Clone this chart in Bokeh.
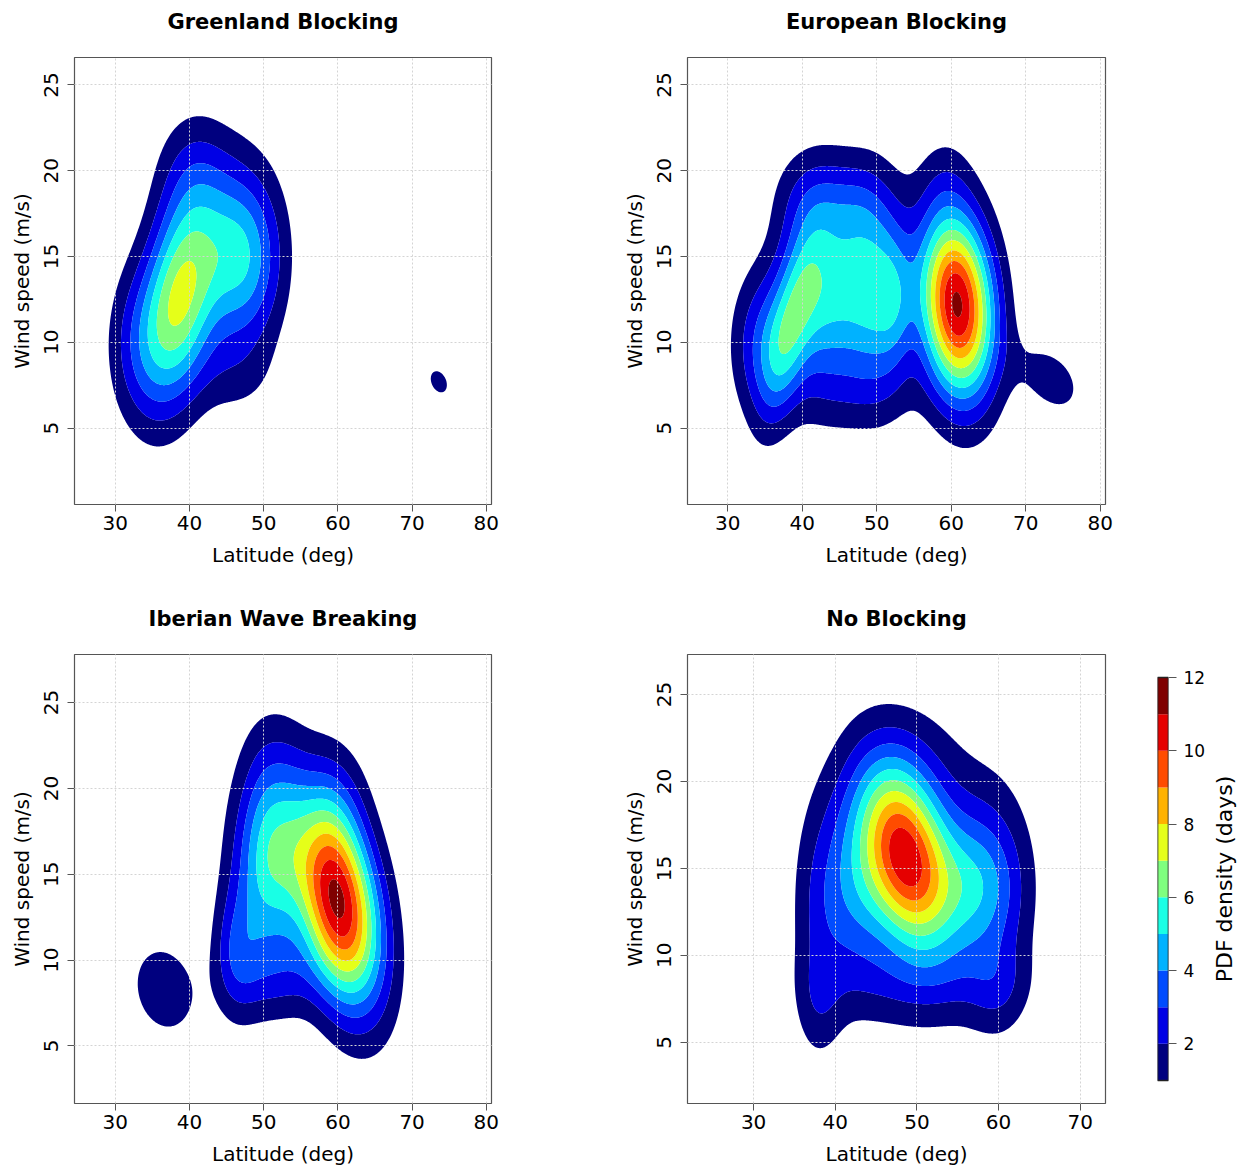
import numpy as np
from bokeh.plotting import figure
from bokeh.layouts import row, column
from bokeh.models import Range1d, FixedTicker, LinearAxis
from bokeh.embed import file_html
from bokeh.resources import INLINE

# ---------------- data ----------------
levels = [1, 2, 3, 4, 5, 6, 7, 8, 9, 10, 11, 12]
colors = ["#00007F", "#0000E5", "#004CFF", "#00B2FF", "#19FFE5", "#7FFF7F",
          "#E5FF19", "#FFB200", "#FF4C00", "#E50000", "#7F0000"]
cbar_ticks = [2, 4, 6, 8, 10, 12]
wind_ticks = [5, 10, 15, 20, 25]
lat_ticks_a = [30, 40, 50, 60, 70, 80]
lat_ticks_b = [30, 40, 50, 60, 70]

titles = ["Greenland Blocking", "European Blocking", "Iberian Wave Breaking", "No Blocking"]
cbar_title = "PDF density (days)"

# density components: centre (lat, wind), spread, tilt, height (days)
g_lat = [38.8, 47.0, 33.5, 46.0, 40.5, 73.6]
g_wind = [12.8, 15.0, 9.8, 8.0, 20.0, 7.7]
g_sd_lat = [3.5, 3.8, 3.2, 4.0, 3.5, 1.5]
g_sd_wind = [4.2, 3.6, 3.2, 1.8, 2.5, 0.85]
g_rho = [0.25, 0.0, 0.0, 0.0, 0.0, -0.3]
g_amp = [6.7, 5.0, 2.2, 0.8, 1.3, 1.3]

e_lat = [60.8, 38.3, 43.0, 50.0, 52.5, 34.8, 41.0, 47.5, 48.0, 59.0, 73.5]
e_wind = [12.2, 10.8, 13.0, 13.0, 12.3, 9.8, 18.5, 18.0, 7.0, 19.5, 7.8]
e_sd_lat = [3.5, 2.6, 4.0, 3.0, 1.8, 3.0, 3.5, 3.0, 6.0, 2.5, 3.5]
e_sd_wind = [3.8, 3.6, 4.0, 4.0, 2.8, 3.0, 2.0, 2.0, 1.6, 2.0, 1.7]
e_rho = [-0.15, 0.6, 0.0, 0.0, 0.0, 0.0, 0.0, 0.0, 0.0, 0.0, -0.35]
e_amp = [11.2, 3.1, 5.0, 4.1, 1.6, 2.8, 1.2, 1.2, 0.6, 0.6, 1.4]

i_lat = [59.9, 50.0, 53.0, 47.0, 46.2, 52.0, 51.0, 60.0, 36.6]
i_wind = [13.5, 16.0, 16.0, 15.0, 10.3, 9.0, 22.0, 19.5, 8.3]
i_sd_lat = [4.1, 2.2, 2.2, 2.5, 2.2, 4.0, 3.0, 3.0, 3.3]
i_sd_wind = [4.2, 4.2, 4.2, 4.5, 2.5, 1.8, 2.0, 2.5, 2.0]
i_rho = [-0.37, 0.0, 0.0, 0.0, 0.0, 0.0, 0.0, 0.0, -0.15]
i_amp = [11.3, 3.4, 2.5, 1.5, 2.0, 1.3, 0.2, 0.8, 1.8]

n_lat = [48.5, 49.5, 57.5, 60.0, 50.0, 42.0, 37.8, 49.0, 38.0, 60.0]
n_wind = [15.9, 14.5, 14.0, 13.0, 8.5, 14.0, 11.0, 21.5, 7.0, 8.0]
n_sd_lat = [3.8, 7.0, 3.5, 3.3, 8.0, 3.0, 2.2, 4.0, 2.0, 2.5]
n_sd_wind = [3.6, 5.0, 2.8, 5.0, 1.5, 3.8, 5.0, 2.2, 1.8, 1.8]
n_rho = [-0.35, 0.0, 0.0, 0.0, 0.0, 0.0, 0.0, 0.0, 0.0, 0.0]
n_amp = [7.8, 3.0, 2.5, 1.0, 0.8, 2.0, 1.2, 0.5, 0.7, 1.0]

# ---------------- field ----------------
xs = np.arange(20.0, 82.0001, 0.1)
ys = np.arange(0.0, 30.0001, 0.1)
X, Y = np.meshgrid(xs, ys)


def density(lat, wind, sdl, sdw, rho, amp):
    z = np.zeros_like(X)
    for x0, y0, sx, sy, r, a in zip(lat, wind, sdl, sdw, rho, amp):
        dx = (X - x0) / sx
        dy = (Y - y0) / sy
        q = (dx * dx + dy * dy - 2 * r * dx * dy) / (1 - r * r)
        z += a * np.exp(-0.5 * q)
    return z


FONT = "DejaVu Sans"
FRAME = "#555555"
NO_TICKS = [-9999]   # outside every range: the axis only shows its label


def label_only_axis(ax, text, size, style, standoff):
    ax.ticker = FixedTicker(ticks=NO_TICKS)
    ax.axis_line_color = None
    ax.major_tick_line_color = None
    ax.minor_tick_line_color = None
    ax.major_tick_out = 0
    ax.minor_tick_out = 0
    ax.major_label_standoff = 0
    ax.axis_label = text
    ax.axis_label_text_font = FONT
    ax.axis_label_text_font_size = size
    ax.axis_label_text_font_style = style
    ax.axis_label_text_color = "black"
    ax.axis_label_standoff = standoff


def panel(title, z, xr, yr, xticks, width, height, borders):
    p = figure(width=width, height=height, x_range=Range1d(*xr), y_range=Range1d(*yr),
               toolbar_location=None, output_backend="svg",
               min_border_left=borders[0], min_border_right=borders[1],
               min_border_top=borders[2], min_border_bottom=borders[3])
    p.background_fill_color = "white"
    p.border_fill_color = "white"
    p.outline_line_color = FRAME
    p.outline_line_width = 1.2
    p.contour(x=xs, y=ys, z=z, levels=levels, fill_color=colors)

    xa = p.below[0]
    ya = p.left[0]
    xa.ticker = FixedTicker(ticks=xticks)
    ya.ticker = FixedTicker(ticks=wind_ticks)
    p.xgrid.ticker = FixedTicker(ticks=xticks)
    p.ygrid.ticker = FixedTicker(ticks=wind_ticks)
    p.grid.grid_line_color = "#d4d4d4"
    p.grid.grid_line_dash = "2 2"
    p.grid.grid_line_width = 1
    p.grid.level = "overlay"

    xa.axis_label = "Latitude (deg)"
    ya.axis_label = "Wind speed (m/s)"
    for ax in [xa, ya]:
        ax.axis_line_color = None
        ax.major_tick_line_color = FRAME
        ax.major_tick_out = 7
        ax.major_tick_in = 0
        ax.minor_tick_line_color = None
        ax.major_label_text_font = FONT
        ax.major_label_text_font_size = "20px"
        ax.major_label_text_color = "black"
        ax.axis_label_text_font = FONT
        ax.axis_label_text_font_size = "20px"
        ax.axis_label_text_font_style = "normal"
        ax.axis_label_text_color = "black"
    xa.major_label_standoff = 4
    xa.axis_label_standoff = 10
    ya.major_label_orientation = "vertical"
    ya.major_label_standoff = 9
    ya.axis_label_standoff = 8

    # panel title (label of a tick-less axis above the frame)
    tax = LinearAxis()
    label_only_axis(tax, title, "21px", "bold", 24)
    p.add_layout(tax, "above")
    return p


z_g = density(g_lat, g_wind, g_sd_lat, g_sd_wind, g_rho, g_amp)
z_e = density(e_lat, e_wind, e_sd_lat, e_sd_wind, e_rho, e_amp)
z_i = density(i_lat, i_wind, i_sd_lat, i_sd_wind, i_rho, i_amp)
z_n = density(n_lat, n_wind, n_sd_lat, n_sd_wind, n_rho, n_amp)

p1 = panel(titles[0], z_g, (24.5, 80.7), (0.55, 26.6), lat_ticks_a, 613, 597, (74, 122, 57, 93))
p2 = panel(titles[1], z_e, (24.6, 80.7), (0.55, 26.6), lat_ticks_a, 633, 597, (74, 141, 57, 93))
p3 = panel(titles[2], z_i, (24.5, 80.7), (1.65, 27.8), lat_ticks_a, 613, 571, (74, 122, 57, 65))
p4 = panel(titles[3], z_n, (21.9, 73.1), (1.48, 27.3), lat_ticks_b, 532, 571, (74, 40, 57, 65))

# ---------------- colour key (frame aligned with the lower panels) ----------------
key_y = (0.37, 12.63)
pc = figure(width=63, height=571, x_range=Range1d(0, 1), y_range=Range1d(*key_y),
            toolbar_location=None, output_backend="svg",
            x_axis_location=None, y_axis_location="right",
            min_border_left=12, min_border_right=37, min_border_top=57, min_border_bottom=65)
pc.background_fill_color = "white"
pc.border_fill_color = "white"
pc.outline_line_color = None
pc.quad(left=0, right=1, bottom=levels[:-1], top=levels[1:], fill_color=colors, line_color=None)
pc.quad(left=0, right=1, bottom=levels[0], top=levels[-1], fill_color=None,
        line_color="#222222", line_width=1.6)
pc.grid.visible = False
cax = pc.right[0]
cax.ticker = FixedTicker(ticks=cbar_ticks)
cax.axis_line_color = None
cax.major_tick_line_color = FRAME
cax.major_tick_out = 8
cax.major_tick_in = 0
cax.minor_tick_line_color = None
cax.major_label_text_font = FONT
cax.major_label_text_font_size = "17px"
cax.major_label_text_color = "black"
cax.major_label_standoff = 7

# key title: label of a tick-less left axis of a 1px-wide figure (reads bottom to top)
pl = figure(width=38, height=571, x_range=Range1d(0, 1), y_range=Range1d(*key_y),
            toolbar_location=None, output_backend="svg",
            x_axis_location=None, y_axis_location="left",
            min_border_left=36, min_border_right=1, min_border_top=57, min_border_bottom=65)
pl.background_fill_color = "white"
pl.border_fill_color = "white"
pl.outline_line_color = None
pl.grid.visible = False
label_only_axis(pl.left[0], cbar_title, "22px", "normal", 9)

layout = column(row(p1, p2), row(p3, p4, pc, pl))
open("out.html", "w").write(file_html(layout, INLINE))
